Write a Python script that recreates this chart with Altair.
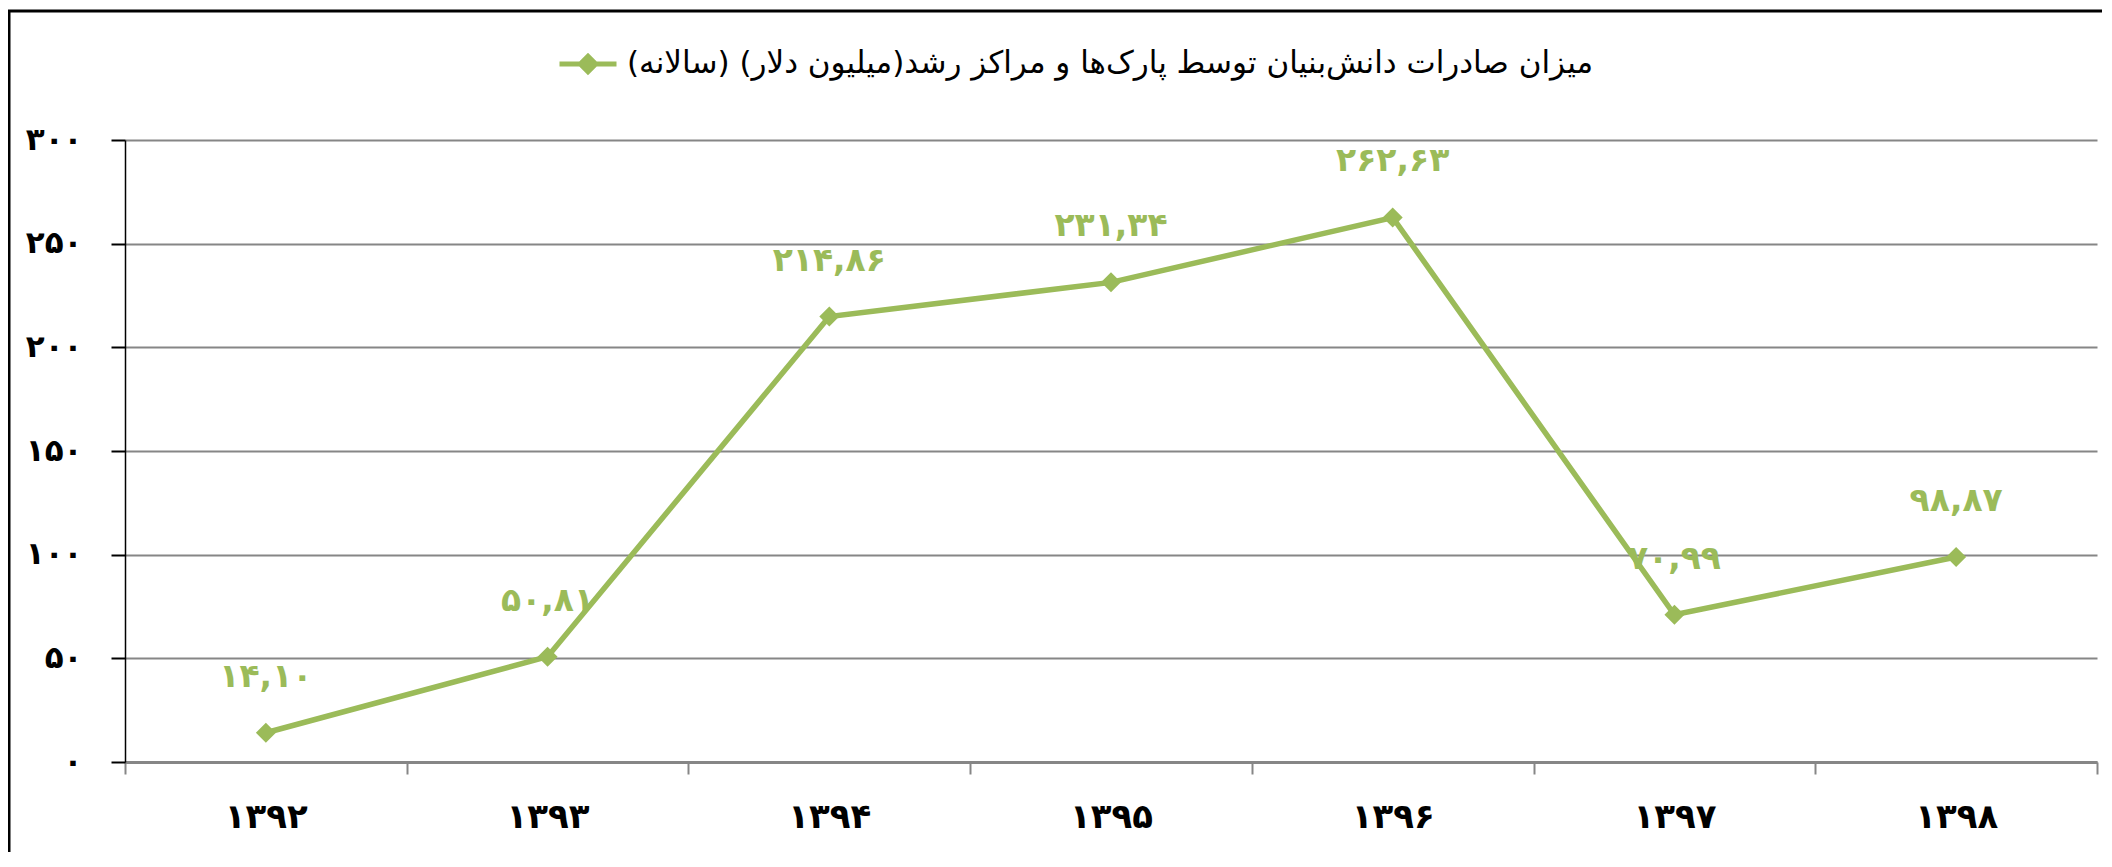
import json
import altair as alt
import pandas as pd

years = ["۱۳۹۲", "۱۳۹۳", "۱۳۹۴", "۱۳۹۵", "۱۳۹۶", "۱۳۹۷", "۱۳۹۸"]
values = [14.10, 50.81, 214.86, 231.34, 262.63, 70.99, 98.87]
value_labels = ["۱۴,۱۰", "۵۰,۸۱", "۲۱۴,۸۶", "۲۳۱,۳۴", "۲۶۲,۶۳", "۷۰,۹۹", "۹۸,۸۷"]
y_ticks = [0, 50, 100, 150, 200, 250, 300]
y_tick_labels = ["۰", "۵۰", "۱۰۰", "۱۵۰", "۲۰۰", "۲۵۰", "۳۰۰"]
series_name = "میزان صادرات دانش\u200cبنیان توسط پارک\u200cها و مراکز رشد(میلیون دلار) (سالانه)\u200f"

GREEN = "#9BBB59"
GRID = "#868686"
FONT = "DejaVu Sans"
W, H = 1972, 622

df = pd.DataFrame({
    "year": years,
    "value": values,
    "label": value_labels,
    "series": [series_name] * len(years),
})

x_enc = alt.X(
    "year:N",
    sort=years,
    scale=alt.Scale(type="band", paddingInner=0, paddingOuter=0),
    axis=alt.Axis(
        title=None, labelAngle=0, grid=False, tickBand="extent",
        domainColor=GRID, domainWidth=3, tickColor=GRID, tickWidth=2, tickSize=12,
        labelFont=FONT, labelFontSize=34, labelFontWeight="bold", labelColor="black",
        labelPadding=26,
    ),
)
y_enc = alt.Y(
    "value:Q",
    scale=alt.Scale(domain=[0, 300], nice=False, zero=True),
    axis=alt.Axis(
        title=None, values=y_ticks,
        labelExpr=json.dumps(y_tick_labels, ensure_ascii=False) + "[datum.value/50]",
        domainColor="black", domainWidth=1.5, tickColor="black", tickWidth=2, tickSize=14,
        gridColor=GRID, gridWidth=2,
        labelFont=FONT, labelFontSize=31, labelFontWeight="bold", labelColor="black",
        labelPadding=29,
    ),
)

base = alt.Chart(df)

line = base.mark_line(strokeWidth=5.5).encode(
    x=x_enc,
    y=y_enc,
    color=alt.Color(
        "series:N",
        scale=alt.Scale(range=[GREEN]),
        legend=alt.Legend(
            title=None, orient="none", legendX=432, legendY=-107,
            symbolType="M-1,0L1,0M-0.27,0L0,-0.27L0.27,0L0,0.27Z",
            symbolSize=3249, symbolStrokeWidth=5, symbolStrokeColor=GREEN,
            symbolFillColor=GREEN,
            labelFont=FONT, labelFontSize=31, labelColor="black", labelLimit=2000,
            labelOffset=8, padding=0,
        ),
    ),
)

points = base.mark_point(shape="diamond", filled=True, size=400, color=GREEN, opacity=1).encode(
    x=x_enc, y=y_enc
)

texts = base.mark_text(
    dy=-56, font=FONT, fontSize=33, fontWeight="bold", color=GREEN, align="center", baseline="middle"
).encode(x=x_enc, y=y_enc, text="label:N")

border = alt.Chart(alt.Data(values=[{"a": 1}])).mark_rect(
    fill="white", fillOpacity=0, stroke="black", strokeWidth=3
).encode(
    x=alt.value(-116), x2=alt.value(W + 300),
    y=alt.value(-129), y2=alt.value(H + 400),
)

chart = alt.layer(border, line, points, texts).properties(
    width=W, height=H,
    autosize=alt.AutoSizeParams(type="none"),
    padding={"left": 117, "top": 132, "right": 5, "bottom": 90},
    background="white",
).configure_view(stroke=None)

chart.save("out.html", embed_options={"renderer": "svg", "actions": False})
